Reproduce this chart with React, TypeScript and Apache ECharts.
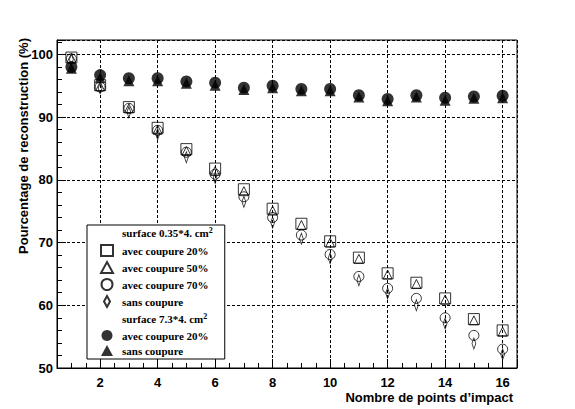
import { useEffect, useRef } from "react";
import * as echarts from "echarts";

// nombre de points d'impact
const points = [1, 2, 3, 4, 5, 6, 7, 8, 9, 10, 11, 12, 13, 14, 15, 16];

// surface 0.35*4 cm2
const petitCoupure20 = [99.5, 95.1, 91.6, 88.3, 84.9, 81.8, 78.5, 75.4, 73.0, 70.2, 67.6, 65.1, 63.6, 61.1, 57.8, 56.0];
const petitCoupure50 = [99.4, 94.9, 91.4, 88.0, 84.6, 81.4, 78.2, 75.1, 72.8, 70.0, 67.4, 64.9, 63.4, 60.9, 57.6, 55.8];
const petitCoupure70 = [99.3, 94.8, 91.4, 87.9, 84.4, 80.9, 77.3, 74.0, 71.2, 68.1, 64.6, 62.7, 61.1, 58.0, 55.2, 53.0];
const petitSansCoupure = [99.2, 94.6, 90.8, 87.3, 83.6, 80.3, 76.5, 73.2, 70.6, 67.5, 64.0, 61.9, 60.0, 57.1, 53.9, 52.2];

// surface 7.3*4 cm2
const grandCoupure20 = [98.0, 96.7, 96.2, 96.2, 95.7, 95.5, 94.7, 95.0, 94.5, 94.5, 93.5, 92.9, 93.5, 93.1, 93.3, 93.4];
const grandSansCoupure = [97.8, 96.3, 95.8, 95.8, 95.4, 95.1, 94.4, 94.7, 94.2, 94.2, 93.2, 92.6, 93.2, 92.7, 93.0, 93.1];

const legendNames = [
  "surface 0.35*4. cm",
  "avec coupure 20%",
  "avec coupure 50%",
  "avec coupure 70%",
  "sans coupure",
  "surface 7.3*4. cm",
  "avec coupure 20% ",
  "sans coupure ",
];

const diamond = "path://M3,0L6,5.5L3,11L0,5.5Z";

const App = () => {
  const chartRef = useRef<HTMLDivElement>(null);

  useEffect(() => {
    if (!chartRef.current) return;
    const chart = echarts.init(chartRef.current, undefined, { renderer: "svg" });

    const pairs = (vals: number[]) => points.map((x, i) => [x, vals[i]]);
    const open = { color: "rgba(0,0,0,0)", borderColor: "#000", borderWidth: 1 };
    const full = { color: "#000", borderColor: "#000", borderWidth: 0 };
    const axisFont = { color: "#000", fontFamily: "Liberation Sans", fontWeight: "bold" as const, fontSize: 13 };
    const grid = { lineStyle: { color: "#000", type: [3, 2] as number[], width: 1 } };

    const option: echarts.EChartsOption = {
      animation: false,
      backgroundColor: "#fff",
      grid: {
        left: 57,
        top: 40,
        right: 58,
        bottom: 41,
        show: true,
        borderColor: "#000",
        borderWidth: 1,
        backgroundColor: "transparent",
      },
      xAxis: [
        {
          type: "value",
          min: 0.5,
          max: 16.5,
          splitNumber: 8,
          position: "bottom",
          axisLine: { show: true, lineStyle: { color: "#000" } },
          axisTick: { show: true, inside: true, length: 9, lineStyle: { color: "#000" } },
          axisLabel: {
            ...axisFont,
            margin: 8,
            formatter: (v: number) => (Number.isInteger(v) ? String(v) : ""),
          },
          splitLine: { show: true, ...grid },
        },
        {
          type: "value",
          min: 0.5,
          max: 16.5,
          interval: 0.5,
          position: "bottom",
          axisLine: { show: false },
          axisTick: { show: true, inside: true, length: 5, lineStyle: { color: "#000" } },
          axisLabel: { show: false },
          splitLine: { show: false },
        },
      ],
      yAxis: [
        {
          type: "value",
          min: 50,
          max: 102.3,
          interval: 10,
          position: "left",
          axisLine: { show: true, lineStyle: { color: "#000" } },
          axisTick: { show: true, inside: true, length: 9, lineStyle: { color: "#000" } },
          axisLabel: {
            ...axisFont,
            margin: 4,
            formatter: (v: number) => (v % 10 === 0 ? String(v) : ""),
          },
          splitLine: { show: true, ...grid },
        },
        {
          type: "value",
          min: 50,
          max: 102.3,
          interval: 2,
          position: "left",
          axisLine: { show: false },
          axisTick: { show: true, inside: true, length: 5, lineStyle: { color: "#000" } },
          axisLabel: { show: false },
          splitLine: { show: false },
        },
      ],
      legend: {
        orient: "vertical",
        left: 87,
        top: 225,
        padding: [1, 12, 3, 13],
        itemWidth: 12,
        itemHeight: 11,
        itemGap: 4,
        selectedMode: false,
        backgroundColor: "#fff",
        borderColor: "#000",
        borderWidth: 1,
        borderRadius: 0,
        data: [
          { name: legendNames[0], itemStyle: { opacity: 0 } },
          { name: legendNames[1] },
          { name: legendNames[2] },
          { name: legendNames[3] },
          { name: legendNames[4] },
          { name: legendNames[5], itemStyle: { opacity: 0 } },
          { name: legendNames[6] },
          { name: legendNames[7] },
        ],
        formatter: (name: string) => (name.startsWith("surface") ? `${name}{sup|2}` : name),
        textStyle: {
          color: "#000",
          fontFamily: "Liberation Serif",
          fontWeight: "bold",
          fontSize: 11,
          lineHeight: 11,
          padding: [0, 0, 0, 4],
          rich: {
            sup: {
              color: "#000",
              fontFamily: "Liberation Serif",
              fontWeight: "bold",
              fontSize: 8,
              lineHeight: 11,
              padding: [0, 0, 6, 0],
            },
          },
        },
      },
      series: [
        { name: legendNames[0], type: "scatter", data: [], symbol: "rect", itemStyle: open },
        {
          name: legendNames[1],
          type: "scatter",
          data: pairs(petitCoupure20),
          symbol: "rect",
          symbolSize: 11,
          itemStyle: open,
        },
        {
          name: legendNames[2],
          type: "scatter",
          data: pairs(petitCoupure50),
          symbol: "triangle",
          symbolSize: 9,
          itemStyle: open,
        },
        {
          name: legendNames[3],
          type: "scatter",
          data: pairs(petitCoupure70),
          symbol: "circle",
          symbolSize: 10,
          itemStyle: open,
        },
        {
          name: legendNames[4],
          type: "scatter",
          data: pairs(petitSansCoupure),
          symbol: diamond,
          symbolSize: [7, 11],
          symbolKeepAspect: true,
          itemStyle: open,
        },
        { name: legendNames[5], type: "scatter", data: [], symbol: "rect", itemStyle: open },
        {
          name: legendNames[6],
          type: "scatter",
          data: pairs(grandCoupure20),
          symbol: "circle",
          symbolSize: 12,
          itemStyle: full,
        },
        {
          name: legendNames[7],
          type: "scatter",
          data: pairs(grandSansCoupure),
          symbol: "triangle",
          symbolSize: 11,
          itemStyle: full,
        },
      ],
      graphic: [
        {
          type: "text",
          x: 23,
          y: 38,
          rotation: Math.PI / 2,
          style: {
            text: "Pourcentage de reconstruction (%)",
            font: "bold 13px Liberation Sans",
            fill: "#000",
            align: "right",
            verticalAlign: "middle",
          },
        },
        {
          type: "text",
          x: 513,
          y: 397,
          style: {
            text: "Nombre de points d\u2019impact",
            font: "bold 13px Liberation Sans",
            fill: "#000",
            align: "right",
            verticalAlign: "middle",
          },
        },
      ],
    };

    chart.setOption(option);

    return () => {
      chart.dispose();
    };
  }, []);

  return (
    <div
      ref={chartRef}
      style={{ position: "fixed", left: 0, top: 0, width: "575px", height: "409px", background: "#fff" }}
    />
  );
};

export default App;
